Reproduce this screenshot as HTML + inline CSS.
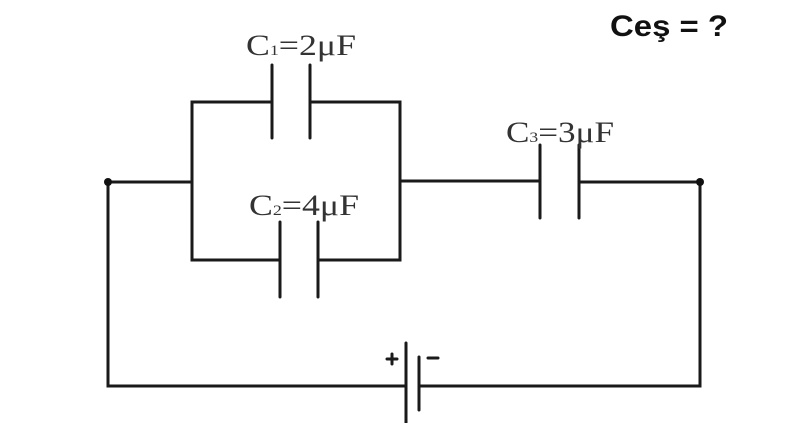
<!DOCTYPE html>
<html><head><style>
body{margin:0;background:#fff;width:800px;height:423px;overflow:hidden}
svg{display:block}
</style></head><body>
<svg width="800" height="423" viewBox="0 0 800 423" xmlns="http://www.w3.org/2000/svg">
<g stroke="#1a1a1a" stroke-width="3" fill="none" stroke-linecap="round">
<polyline points="108,182 192,182"/>
<polyline points="108,182 108,386 406,386"/>
<polyline points="419,386 700,386 700,182 579,182"/>
<polyline points="272,102 192,102 192,260 280,260"/>
<polyline points="310,102 400,102 400,260 318,260"/>
<polyline points="400,181 540,181"/>
<line x1="272" y1="65" x2="272" y2="138"/>
<line x1="310" y1="65" x2="310" y2="138"/>
<line x1="280" y1="222" x2="280" y2="297"/>
<line x1="318" y1="222" x2="318" y2="297"/>
<line x1="540" y1="145" x2="540" y2="218"/>
<line x1="579" y1="145" x2="579" y2="218"/>
<line x1="406" y1="343" x2="406" y2="423"/>
<line x1="419" y1="357" x2="419" y2="410"/>
<line x1="387" y1="359" x2="397" y2="359"/>
<line x1="392" y1="354" x2="392" y2="364"/>
<line x1="428" y1="358" x2="438" y2="358"/>
</g>
<circle cx="108" cy="182" r="4" fill="#111"/>
<circle cx="700" cy="182" r="4" fill="#111"/>
<g font-family="Liberation Serif, serif" font-size="30" fill="#333">
<text x="246" y="55" textLength="110" lengthAdjust="spacingAndGlyphs">C<tspan font-size="15">1</tspan>=2μF</text>
<text x="249" y="215" textLength="110" lengthAdjust="spacingAndGlyphs">C<tspan font-size="15">2</tspan>=4μF</text>
<text x="506" y="142" textLength="108" lengthAdjust="spacingAndGlyphs">C<tspan font-size="15">3</tspan>=3μF</text>
</g>
<text x="610" y="36" font-family="Liberation Sans, sans-serif" font-weight="bold" font-size="30" fill="#111" textLength="118" lengthAdjust="spacingAndGlyphs">Ceş = ?</text>
</svg>
</body></html>
